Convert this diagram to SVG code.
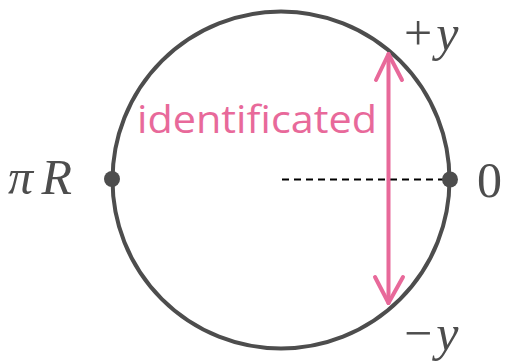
<svg xmlns="http://www.w3.org/2000/svg" width="505" height="361" viewBox="0 0 505 361">
<style>
.circ{fill:none;stroke:#4d4d4d;stroke-width:4}
.dot{fill:#4d4d4d}
.math{font-family:"Liberation Serif","DejaVu Serif",serif;fill:#4d4d4d;font-size:50px}
.it{font-style:italic}
.pink{stroke:#e8699a;stroke-width:4;fill:none;stroke-linecap:round;stroke-linejoin:round}
</style>
<g id="circle"><circle class="circ" cx="281" cy="180" r="168.5"/></g>
<g id="connectors">
<line x1="282" y1="179.5" x2="450" y2="179.5" stroke="#000" stroke-width="2" stroke-dasharray="7,5"/>
<line class="pink" x1="388.5" y1="54" x2="388.5" y2="303"/>
<polyline class="pink" points="376,80 388.5,54 402,80"/>
<polyline class="pink" points="375,277 388.5,303 403,277"/>
</g>
<g id="p-left"><circle class="dot" cx="112" cy="179" r="8"/></g>
<g id="p-right"><circle class="dot" cx="450" cy="179.5" r="8"/></g>
<g id="label-identificated"><text x="137" y="133" font-family="'Open Sans','Liberation Sans',sans-serif" font-size="38" fill="#e8699a" textLength="240" lengthAdjust="spacingAndGlyphs">identificated</text></g>
<g id="label-plus-y"><text class="math" x="404" y="50" font-size="54">+<tspan class="it" dx="4">y</tspan></text></g>
<g id="label-piR"><text class="math it" x="8" y="194" textLength="64">πR</text></g>
<g id="label-zero"><text class="math" x="477" y="197">0</text></g>
<g id="label-minus-y"><text class="math" x="404" y="350" font-size="54">−<tspan class="it" dx="4">y</tspan></text></g>
</svg>
